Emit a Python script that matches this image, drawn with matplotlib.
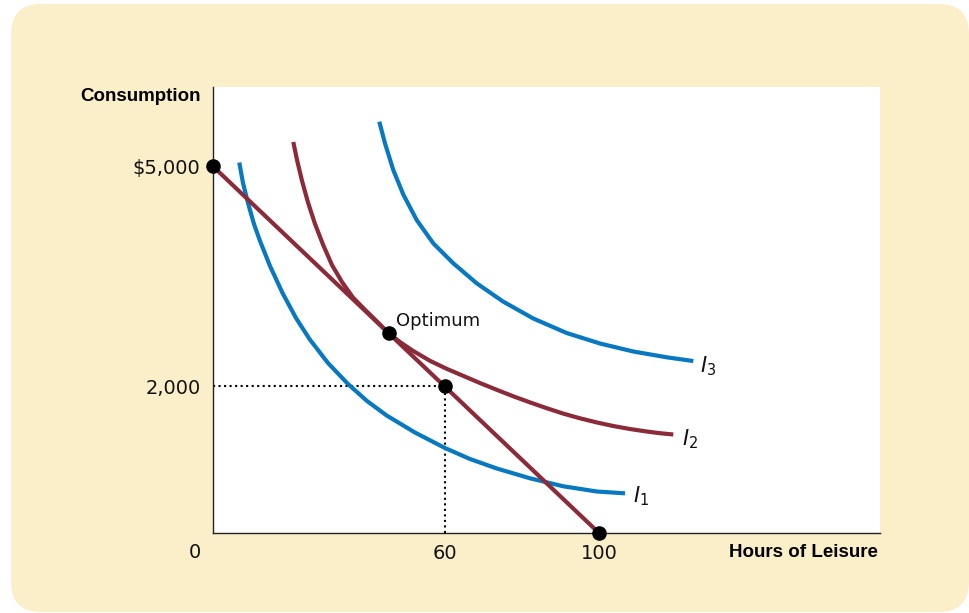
import matplotlib
matplotlib.use('Agg')
import matplotlib.pyplot as plt
from matplotlib.patches import FancyBboxPatch
from matplotlib.transforms import IdentityTransform

# indifference curves (hours of leisure, consumption $)
i1_x = [6.81, 7.77, 9.07, 10.62, 12.18, 14.77, 18.01, 21.50, 25.00, 29.79, 34.97,
        39.90, 45.00, 52.33, 60.10, 66.58, 73.50, 82.12, 90.75, 99.40, 106.74]
i1_y = [5052, 4773, 4500, 4213, 3982, 3641, 3273, 2932, 2645, 2318, 2032,
        1800, 1602, 1370, 1159, 1009, 880, 746, 637, 566, 541]

i2_x = [20.80, 21.76, 23.06, 24.61, 26.42, 28.50, 30.83, 33.42, 36.27, 39.38, 42.49,
        45.50, 48.45, 51.81, 56.22, 60.54, 64.77, 69.17, 73.50, 77.80, 82.12,
        86.45, 90.75, 95.08, 99.40, 103.70, 108.03, 112.36, 115.80, 119.25]
i2_y = [5332, 5089, 4803, 4508, 4216, 3933, 3654, 3423, 3211, 3044, 2883,
        2725, 2604, 2484, 2348, 2239, 2144, 2045, 1953, 1864, 1781,
        1702, 1628, 1564, 1508, 1459, 1418, 1384, 1361, 1343]

i3_x = [43.08, 44.56, 46.71, 49.30, 52.77, 57.07, 62.25, 68.32, 75.13, 82.98,
        91.63, 100.26, 108.89, 117.54, 124.43]
i3_y = [5609, 5314, 4950, 4616, 4268, 3950, 3678, 3405, 3157, 2925,
        2727, 2584, 2475, 2396, 2345]

budget_x = [0, 100]
budget_y = [5000, 0]

points_x = [0, 45.5, 60, 100]
points_y = [5000, 2725, 2000, 0]

guide_x, guide_y = 60, 2000

curve_labels = [r'$I_1$', r'$I_2$', r'$I_3$']
label_pos = [(108.8, 423), (121.5, 1200), (126.2, 2195)]

BLUE = '#0878C0'
MAROON = '#8B2B3A'
BEIGE = '#FBEFC9'

fig = plt.figure(figsize=(9.7, 6.13), dpi=100)
plt.rcParams['mathtext.fontset'] = 'dejavusans'

# rounded beige panel behind the chart (display pixels)
panel = FancyBboxPatch((41, 31), 898, 548,
                       boxstyle='round,pad=30', transform=IdentityTransform(),
                       facecolor=BEIGE, edgecolor='none', zorder=-10)
fig.patches.append(panel)

ax = fig.add_axes([213 / 970, 80 / 613, 667 / 970, 446 / 613])
ax.set_facecolor('white')
ax.set_xlim(0, 172.8)
ax.set_ylim(0, 6082)

for side in ['top', 'right']:
    ax.spines[side].set_visible(False)
for side in ['left', 'bottom']:
    ax.spines[side].set_color('#222222')
    ax.spines[side].set_linewidth(1.0)

# dotted guides to the 60 h / $2,000 point
ax.plot([0, guide_x], [guide_y, guide_y], ':', color='black', lw=1.5, zorder=2)
ax.plot([guide_x, guide_x], [0, guide_y], ':', color='black', lw=1.5, zorder=2)

for cx, cy, col in [(i1_x, i1_y, BLUE), (i3_x, i3_y, BLUE),
                    (i2_x, i2_y, MAROON), (budget_x, budget_y, MAROON)]:
    ax.plot(cx, cy, color=col, lw=3, solid_capstyle='butt',
            solid_joinstyle='round', zorder=3)

ax.plot(points_x, points_y, 'o', color='black', ms=9.5, zorder=5, clip_on=False)

for lab, (lx, ly) in zip(curve_labels, label_pos):
    ax.text(lx, ly, lab, fontsize=15, ha='left', va='baseline', color='#111111')

ax.text(47.4, 2823, 'Optimum', fontsize=13, ha='left', va='baseline', color='#111111')

ax.set_xticks([60, 100])
ax.set_xticklabels(['60', '100'])
ax.set_yticks([2000, 5000])
ax.set_yticklabels(['2,000', '$5,000'])
ax.tick_params(length=0, labelsize=14, colors='#111111')
ax.tick_params(axis='x', pad=8)
ax.tick_params(axis='y', pad=9)

ax.annotate('0', xy=(0, 0), xytext=(-13, -13.7), textcoords='offset points',
            ha='center', va='center', fontsize=14, color='#111111', annotation_clip=False)

ax.annotate('Consumption', xy=(0, 1), xycoords='axes fraction', xytext=(-9, -6.5),
            textcoords='offset points', ha='right', va='center',
            fontsize=13.5, fontweight='bold', family='Liberation Sans')
ax.annotate('Hours of Leisure', xy=(1, 0), xycoords='axes fraction', xytext=(-1.5, -13.7),
            textcoords='offset points', ha='right', va='center',
            fontsize=13.5, fontweight='bold', family='Liberation Sans')

fig.savefig('out.png', dpi=100)
